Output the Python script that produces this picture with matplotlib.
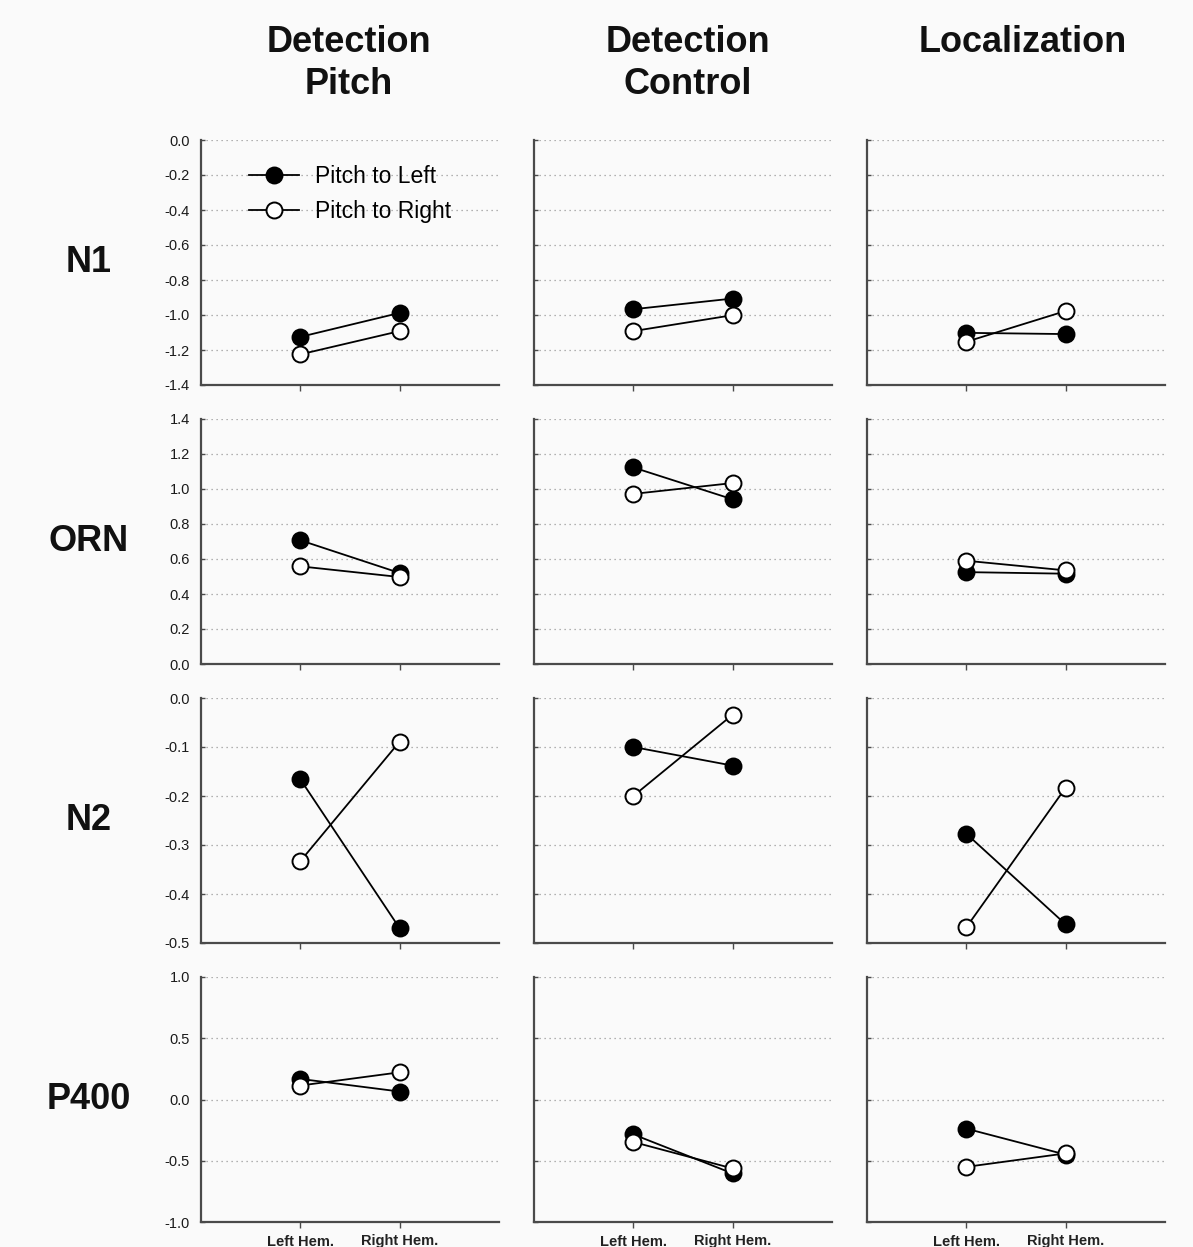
import numpy as np
import matplotlib
matplotlib.use("Agg")
import matplotlib.pyplot as plt
from matplotlib.ticker import FixedLocator, FormatStrFormatter

plt.rcParams['font.family'] = ['Liberation Sans', 'DejaVu Sans']

# Task conditions (columns) and ERP components (rows)
conditions = ["Detection\nPitch", "Detection\nControl", "Localization"]
components = ["N1", "ORN", "N2", "P400"]
hemispheres = ["Left Hem.", "Right Hem."]
series_names = ["Pitch to Left", "Pitch to Right"]

# Mean amplitudes, one [left hem, right hem] pair per condition
n1_pitch_left = [[-1.125, -0.988], [-0.967, -0.906], [-1.102, -1.109]]
n1_pitch_right = [[-1.225, -1.092], [-1.092, -1.001], [-1.153, -0.977]]

orn_pitch_left = [[0.707, 0.520], [1.123, 0.941], [0.525, 0.516]]
orn_pitch_right = [[0.558, 0.497], [0.972, 1.034], [0.590, 0.535]]

n2_pitch_left = [[-0.166, -0.470], [-0.100, -0.138], [-0.277, -0.462]]
n2_pitch_right = [[-0.333, -0.089], [-0.200, -0.034], [-0.468, -0.183]]

p400_pitch_left = [[0.168, 0.065], [-0.285, -0.604], [-0.238, -0.450]]
p400_pitch_right = [[0.114, 0.222], [-0.347, -0.563], [-0.550, -0.440]]

pitch_left = [n1_pitch_left, orn_pitch_left, n2_pitch_left, p400_pitch_left]
pitch_right = [n1_pitch_right, orn_pitch_right, n2_pitch_right, p400_pitch_right]

# Axis ranges and tick steps for each component row
row_limits = [(-1.4, 0.0, 0.2), (0.0, 1.4, 0.2), (-0.5, 0.0, 0.1), (-1.0, 1.0, 0.5)]

W, H = 1193, 1247
fig = plt.figure(figsize=(W / 100, H / 100), dpi=100, facecolor="#fafafa")

col_left = [201, 534, 867]
title_x = [349, 688, 1023]
ax_w = 298
row_bottom = [385, 664, 943, 1222]
ax_h = 245

spine_col = "#4a4a4a"
text_col = "#111111"
x_pos = [1, 2]

for r in range(4):
    lo, hi, step = row_limits[r]
    ticks = np.round(np.arange(lo, hi + step / 2, step), 3) + 0.0
    ticks[np.isclose(ticks, 0.0)] = 0.0
    for c in range(3):
        ax = fig.add_axes([col_left[c] / W, 1 - row_bottom[r] / H, ax_w / W, ax_h / H])
        ax.set_facecolor("#fafafa")
        ax.set_xlim(0, 3)
        ax.set_ylim(lo, hi)
        for s in ("top", "right"):
            ax.spines[s].set_visible(False)
        for s in ("left", "bottom"):
            ax.spines[s].set_color(spine_col)
            ax.spines[s].set_linewidth(1.6)
        ax.yaxis.set_major_locator(FixedLocator(ticks))
        ax.yaxis.set_major_formatter(FormatStrFormatter("%.1f"))
        ax.grid(axis="y", linestyle=(0, (1, 3)), color="#9a9a9a", linewidth=0.9)
        ax.set_axisbelow(True)
        ax.tick_params(axis="y", direction="in", length=3, width=1, color=spine_col,
                       labelsize=10.5, labelcolor="#1a1a1a", pad=8,
                       labelleft=(c == 0))
        ax.set_xticks(x_pos)
        ax.tick_params(axis="x", direction="out", length=4, width=1, color=spine_col)
        if r == 3:
            ax.set_xticklabels(hemispheres, fontsize=10.5, fontweight="bold", color="#222222")
            ax.tick_params(axis="x", pad=5)
        else:
            ax.set_xticklabels([])

        ax.plot(x_pos, pitch_left[r][c], color="black", linewidth=1.3,
                marker="o", markersize=11.5, markerfacecolor="black",
                markeredgecolor="black", markeredgewidth=1.4,
                label=series_names[0], zorder=3, clip_on=False)
        ax.plot(x_pos, pitch_right[r][c], color="black", linewidth=1.3,
                marker="o", markersize=11.5, markerfacecolor="white",
                markeredgecolor="black", markeredgewidth=1.4,
                label=series_names[1], zorder=4, clip_on=False)

        if r == 0 and c == 0:
            ax.legend(loc="upper left", bbox_to_anchor=(0.16, 0.897), frameon=False,
                      fontsize=16.5, handlelength=2.2, handletextpad=0.7,
                      labelspacing=0.5, borderpad=0, borderaxespad=0)

        if r == 0:
            fig.text(title_x[c] / W, 1 - 25 / H, conditions[c], fontsize=26,
                     fontweight="bold", color=text_col, ha="center", va="top",
                     linespacing=1.25)

    # Component label to the left of each row
    yc = 1 - (row_bottom[r] - ax_h / 2) / H
    fig.text(89 / W, yc, components[r], fontsize=26, fontweight="bold",
             color=text_col, ha="center", va="center")

fig.savefig("out.png", dpi=100, facecolor=fig.get_facecolor())
